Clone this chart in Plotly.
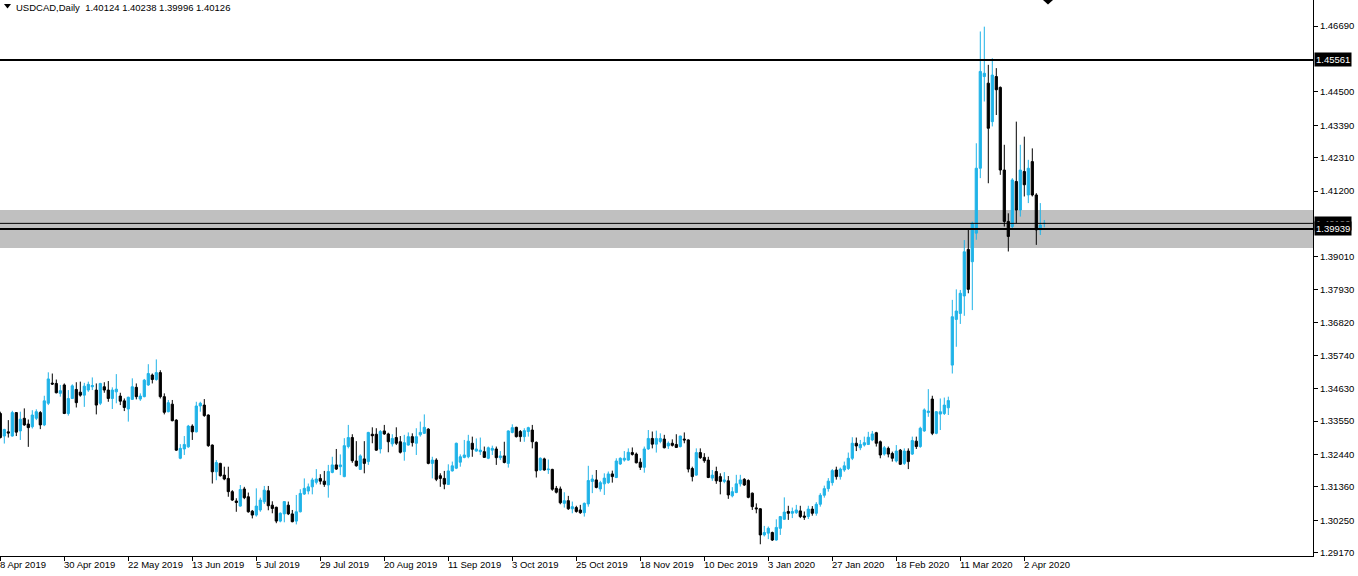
import plotly.graph_objects as go

# ---------------- data ----------------
open_ = [
1.3380,1.3305,1.3319,1.3305,1.3383,1.3322,1.3364,1.3345,1.3336,1.3364,
1.3383,1.3342,1.3414,1.3481,1.3480,1.3447,1.3475,1.3380,1.3430,1.3460,
1.3451,1.3441,1.3458,1.3469,1.3458,1.3414,1.3469,1.3458,1.3430,1.3452,
1.3438,1.3422,1.3395,1.3427,1.3467,1.3428,1.3436,1.3475,1.3508,1.3493,
1.3516,1.3436,1.3386,1.3411,1.3358,1.3231,1.3262,1.3269,1.3338,1.3319,
1.3405,1.3408,1.3375,1.3275,1.3186,1.3214,1.3175,1.3164,1.3120,1.3089,
1.3072,1.3129,1.3103,1.3055,1.3042,1.3059,1.3086,1.3123,1.3075,1.3068,
1.3022,1.3046,1.3075,1.3046,1.3022,1.3053,1.3112,1.3122,1.3136,1.3151,
1.3164,1.3155,1.3142,1.3184,1.3209,1.3203,1.3170,1.3270,1.3300,1.3222,
1.3194,1.3229,1.3220,1.3311,1.3311,1.3262,1.3322,1.3312,1.3279,1.3300,
1.3286,1.3253,1.3275,1.3303,1.3281,1.3309,1.3314,1.3328,1.3214,1.3225,
1.3173,1.3164,1.3144,1.3189,1.3198,1.3218,1.3234,1.3236,1.3281,1.3255,
1.3253,1.3253,1.3231,1.3258,1.3262,1.3233,1.3239,1.3214,1.3317,1.3334,
1.3320,1.3303,1.3320,1.3325,1.3284,1.3192,1.3229,1.3193,1.3194,1.3131,
1.3129,1.3081,1.3090,1.3063,1.3067,1.3059,1.3050,1.3079,1.3154,1.3159,
1.3129,1.3146,1.3150,1.3179,1.3167,1.3212,1.3225,1.3225,1.3250,1.3245,
1.3218,1.3201,1.3262,1.3297,1.3278,1.3287,1.3295,1.3272,1.3281,1.3277,
1.3270,1.3295,1.3292,1.3197,1.3175,1.3250,1.3234,1.3225,1.3165,1.3187,
1.3170,1.3154,1.3156,1.3106,1.3117,1.3146,1.3161,1.3157,1.3115,1.3066,
1.3063,1.2976,1.2982,1.2984,1.2959,1.2998,1.3028,1.3054,1.3048,1.3050,
1.3056,1.3039,1.3037,1.3062,1.3048,1.3078,1.3108,1.3130,1.3150,1.3192,
1.3170,1.3192,1.3197,1.3231,1.3281,1.3266,1.3275,1.3277,1.3292,1.3316,
1.3286,1.3245,1.3264,1.3247,1.3222,1.3258,1.3214,1.3255,1.3245,1.3288,
1.3270,1.3322,1.3383,1.3428,1.3314,1.3378,1.3380,1.3399,1.3541,1.3693,
1.3713,1.3771,1.3926,1.3885,1.3980,1.4196,1.4501,1.4479,1.4351,1.4501,
1.4465,1.4190,1.4019,1.4002,1.4152,1.4057,1.4185,1.4107,1.4218,1.4107,
1.3991,1.40124]

high = [
1.3386,1.3329,1.3358,1.3389,1.3385,1.3386,1.3397,1.3360,1.3391,1.3394,
1.3388,1.3439,1.3517,1.3513,1.3493,1.3475,1.3480,1.3458,1.3477,1.3484,
1.3486,1.3482,1.3486,1.3500,1.3480,1.3482,1.3484,1.3488,1.3467,1.3511,
1.3449,1.3430,1.3436,1.3497,1.3480,1.3447,1.3495,1.3544,1.3513,1.3560,
1.3524,1.3447,1.3425,1.3425,1.3361,1.3278,1.3305,1.3342,1.3344,1.3419,
1.3419,1.3428,1.3377,1.3277,1.3225,1.3216,1.3203,1.3203,1.3125,1.3098,
1.3142,1.3136,1.3117,1.3059,1.3131,1.3100,1.3139,1.3139,1.3088,1.3070,
1.3051,1.3088,1.3087,1.3059,1.3109,1.3128,1.3164,1.3147,1.3166,1.3195,
1.3178,1.3189,1.3209,1.3236,1.3262,1.3244,1.3298,1.3342,1.3311,1.3288,
1.3244,1.3288,1.3319,1.3334,1.3331,1.3325,1.3342,1.3316,1.3311,1.3334,
1.3305,1.3309,1.3317,1.3314,1.3331,1.3353,1.3377,1.3331,1.3236,1.3231,
1.3181,1.3189,1.3211,1.3220,1.3283,1.3244,1.3292,1.3309,1.3303,1.3297,
1.3300,1.3270,1.3270,1.3273,1.3270,1.3255,1.3286,1.3324,1.3344,1.3336,
1.3325,1.3331,1.3336,1.3342,1.3287,1.3234,1.3233,1.3227,1.3196,1.3139,
1.3137,1.3118,1.3106,1.3087,1.3073,1.3076,1.3084,1.3206,1.3176,1.3192,
1.3156,1.3181,1.3187,1.3190,1.3231,1.3234,1.3255,1.3264,1.3267,1.3250,
1.3231,1.3270,1.3325,1.3320,1.3323,1.3314,1.3309,1.3287,1.3294,1.3311,
1.3306,1.3317,1.3294,1.3203,1.3264,1.3264,1.3248,1.3236,1.3192,1.3203,
1.3181,1.3185,1.3172,1.3135,1.3176,1.3176,1.3165,1.3161,1.3117,1.3081,
1.3065,1.3006,1.3004,1.2987,1.3028,1.3039,1.3101,1.3073,1.3067,1.3076,
1.3073,1.3054,1.3073,1.3072,1.3085,1.3115,1.3140,1.3165,1.3195,1.3203,
1.3200,1.3220,1.3250,1.3301,1.3300,1.3292,1.3303,1.3319,1.3322,1.3319,
1.3290,1.3272,1.3270,1.3253,1.3275,1.3262,1.3264,1.3264,1.3303,1.3303,
1.3336,1.3397,1.3461,1.3439,1.3388,1.3430,1.3433,1.3436,1.3758,1.3793,
1.3791,1.3957,1.3996,1.4018,1.4279,1.4651,1.4667,1.4540,1.4562,1.4529,
1.4468,1.4274,1.4046,1.4163,1.4351,1.4274,1.4301,1.4224,1.4262,1.4113,
1.4080,1.40238]

low = [
1.3297,1.3280,1.3300,1.3303,1.3305,1.3292,1.3339,1.3269,1.3330,1.3358,
1.3328,1.3338,1.3408,1.3475,1.3447,1.3436,1.3378,1.3373,1.3428,1.3400,
1.3436,1.3402,1.3452,1.3458,1.3377,1.3408,1.3449,1.3419,1.3395,1.3414,
1.3408,1.3388,1.3353,1.3425,1.3427,1.3422,1.3434,1.3472,1.3480,1.3489,
1.3430,1.3377,1.3384,1.3354,1.3256,1.3228,1.3242,1.3266,1.3292,1.3317,
1.3386,1.3369,1.3269,1.3147,1.3158,1.3170,1.3158,1.3103,1.3089,1.3053,
1.3070,1.3095,1.3050,1.3031,1.3037,1.3053,1.3079,1.3058,1.3048,1.3015,
1.3018,1.3018,1.3042,1.3018,1.3011,1.3051,1.3109,1.3111,1.3111,1.3144,
1.3144,1.3136,1.3100,1.3181,1.3192,1.3175,1.3168,1.3264,1.3216,1.3203,
1.3192,1.3181,1.3209,1.3281,1.3256,1.3247,1.3309,1.3251,1.3270,1.3275,
1.3247,1.3223,1.3273,1.3270,1.3242,1.3303,1.3312,1.3211,1.3164,1.3155,
1.3136,1.3128,1.3142,1.3187,1.3195,1.3203,1.3231,1.3231,1.3236,1.3253,
1.3242,1.3233,1.3228,1.3242,1.3209,1.3225,1.3214,1.3200,1.3314,1.3300,
1.3286,1.3286,1.3303,1.3264,1.3167,1.3189,1.3190,1.3179,1.3123,1.3114,
1.3078,1.3067,1.3059,1.3048,1.3050,1.3046,1.3037,1.3070,1.3115,1.3131,
1.3120,1.3109,1.3146,1.3150,1.3165,1.3209,1.3220,1.3223,1.3240,1.3214,
1.3192,1.3183,1.3259,1.3264,1.3250,1.3281,1.3264,1.3262,1.3270,1.3266,
1.3267,1.3281,1.3184,1.3154,1.3173,1.3229,1.3216,1.3165,1.3156,1.3146,
1.3111,1.3148,1.3096,1.3101,1.3115,1.3137,1.3139,1.3098,1.3059,1.3048,
1.2945,1.2971,1.2962,1.2956,1.2957,1.2976,1.3026,1.3026,1.3032,1.3046,
1.3032,1.3026,1.3029,1.3040,1.3040,1.3070,1.3100,1.3120,1.3140,1.3160,
1.3160,1.3186,1.3192,1.3225,1.3255,1.3258,1.3270,1.3275,1.3288,1.3270,
1.3231,1.3240,1.3234,1.3220,1.3217,1.3209,1.3209,1.3195,1.3242,1.3262,
1.3266,1.3319,1.3369,1.3308,1.3311,1.3325,1.3375,1.3375,1.3513,1.3602,
1.3678,1.3705,1.3780,1.3724,1.3958,1.4163,1.4418,1.4146,1.4335,1.4373,
1.4174,1.4002,1.3919,1.3991,1.4013,1.4035,1.4102,1.4080,1.4102,1.3941,
1.3974,1.39996]

close = [
1.3300,1.3327,1.3315,1.3383,1.3318,1.3361,1.3342,1.3333,1.3375,1.3386,
1.3342,1.3422,1.3495,1.3478,1.3449,1.3456,1.3380,1.3430,1.3472,1.3416,
1.3441,1.3471,1.3477,1.3473,1.3408,1.3480,1.3458,1.3430,1.3458,1.3461,
1.3421,1.3400,1.3434,1.3469,1.3436,1.3438,1.3491,1.3513,1.3493,1.3516,
1.3436,1.3384,1.3416,1.3356,1.3258,1.3264,1.3277,1.3338,1.3319,1.3405,
1.3414,1.3373,1.3273,1.3186,1.3217,1.3173,1.3162,1.3120,1.3092,1.3084,
1.3127,1.3100,1.3053,1.3042,1.3072,1.3092,1.3125,1.3073,1.3064,1.3022,
1.3048,1.3087,1.3046,1.3020,1.3053,1.3114,1.3131,1.3136,1.3159,1.3162,
1.3155,1.3144,1.3187,1.3209,1.3195,1.3209,1.3273,1.3300,1.3223,1.3206,
1.3239,1.3214,1.3317,1.3306,1.3258,1.3320,1.3312,1.3286,1.3297,1.3281,
1.3251,1.3283,1.3303,1.3283,1.3303,1.3317,1.3334,1.3214,1.3225,1.3161,
1.3164,1.3145,1.3189,1.3206,1.3281,1.3236,1.3242,1.3288,1.3261,1.3262,
1.3258,1.3234,1.3266,1.3264,1.3233,1.3239,1.3217,1.3322,1.3333,1.3303,
1.3303,1.3323,1.3333,1.3286,1.3189,1.3231,1.3192,1.3195,1.3128,1.3118,
1.3083,1.3090,1.3063,1.3070,1.3054,1.3050,1.3081,1.3157,1.3162,1.3134,
1.3150,1.3165,1.3179,1.3170,1.3222,1.3231,1.3231,1.3251,1.3244,1.3216,
1.3201,1.3262,1.3297,1.3278,1.3297,1.3297,1.3266,1.3281,1.3274,1.3267,
1.3305,1.3292,1.3195,1.3170,1.3250,1.3233,1.3223,1.3167,1.3175,1.3156,
1.3154,1.3159,1.3109,1.3120,1.3146,1.3159,1.3142,1.3101,1.3070,1.3063,
1.2976,1.2984,1.2998,1.2959,1.3001,1.3037,1.3052,1.3048,1.3054,1.3059,
1.3037,1.3035,1.3062,1.3048,1.3078,1.3108,1.3130,1.3155,1.3190,1.3170,
1.3195,1.3206,1.3231,1.3281,1.3272,1.3277,1.3283,1.3301,1.3312,1.3281,
1.3242,1.3266,1.3245,1.3231,1.3255,1.3211,1.3255,1.3220,1.3290,1.3270,
1.3331,1.3392,1.3388,1.3314,1.3386,1.3386,1.3408,1.3423,1.3702,1.3721,
1.3780,1.3918,1.3793,1.4013,1.4196,1.4518,1.4512,1.4329,1.4506,1.4457,
1.4190,1.4019,1.3969,1.4157,1.4057,1.4190,1.4141,1.4196,1.4107,1.3991,
1.4007,1.40126]

bar_no = list(range(len(close)))

date_tick_bars = [0, 16, 32, 48, 64, 80, 96, 112, 128, 144, 160, 176, 192, 208, 224, 240, 256]
date_tick_labels = ["8 Apr 2019", "30 Apr 2019", "22 May 2019", "13 Jun 2019", "5 Jul 2019",
                    "29 Jul 2019", "20 Aug 2019", "11 Sep 2019", "3 Oct 2019", "25 Oct 2019",
                    "18 Nov 2019", "10 Dec 2019", "3 Jan 2020", "27 Jan 2020", "18 Feb 2020",
                    "11 Mar 2020", "2 Apr 2020"]

price_ticks = [1.46690, 1.44500, 1.43390, 1.42310, 1.41200, 1.39010, 1.37930, 1.36820,
               1.35740, 1.34630, 1.33550, 1.32440, 1.31360, 1.30250, 1.29170]

resistance_level = 1.45561
bid_level = 1.40126
support_level = 1.39939
zone_top = 1.40570
zone_bottom = 1.39306

title_text = "USDCAD,Daily\u00a0\u00a01.40124 1.40238 1.39996 1.40126"

# ---------------- styling ----------------
BULL = "#1fb3e8"
BEAR = "#000000"
FONT = "Liberation Sans"
FS = 9.5
W, H = 1358, 576
ML, MR, MT, MB = 0, 45, 0, 20
PW = W - ML - MR
PH = H - MT - MB

fig = go.Figure()
fig.add_trace(go.Candlestick(
    x=bar_no, open=open_, high=high, low=low, close=close,
    increasing=dict(line=dict(color=BULL, width=1), fillcolor=BULL),
    decreasing=dict(line=dict(color=BEAR, width=1), fillcolor=BEAR),
    whiskerwidth=0, hoverinfo="skip", showlegend=False,
))

shapes = []
shapes.append(dict(type="rect", xref="paper", yref="y", x0=0, x1=1,
                   y0=zone_bottom, y1=zone_top, fillcolor="#c0c0c0",
                   line=dict(width=0), layer="below"))
for lvl, w in [(resistance_level, 2), (bid_level, 1), (support_level, 2)]:
    shapes.append(dict(type="line", xref="paper", yref="y", x0=0, x1=1,
                       y0=lvl, y1=lvl, line=dict(color="black", width=w)))

def px_x(p):
    return p / PW

def px_y(p):
    return 1 - p / PH

shapes.append(dict(type="path", xref="paper", yref="paper",
                   path=f"M {px_x(4)} {px_y(4)} L {px_x(11)} {px_y(4)} L {px_x(7.5)} {px_y(8.5)} Z",
                   fillcolor="black", line=dict(width=0)))
shapes.append(dict(type="path", xref="paper", yref="paper",
                   path=f"M {px_x(1043)} {px_y(0)} L {px_x(1053)} {px_y(0)} L {px_x(1048)} {px_y(4.5)} Z",
                   fillcolor="black", line=dict(width=0)))

annotations = []
annotations.append(dict(text=title_text, x=0, xref="paper", xshift=14, xanchor="left",
                        y=1, yref="paper", yanchor="top", yshift=0, showarrow=False,
                        font=dict(family=FONT, size=FS, color="black")))

for b, t in zip(date_tick_bars, date_tick_labels):
    annotations.append(dict(text=t, x=b, xref="x", xanchor="left", xshift=-2,
                            y=0, yref="paper", yanchor="top", yshift=-1,
                            showarrow=False, font=dict(family=FONT, size=FS, color="black")))

for lvl in [resistance_level, bid_level, support_level]:
    annotations.append(dict(text=f"{lvl:.5f}", x=1, xref="paper", xanchor="left", xshift=1,
                            y=lvl, yref="y", yanchor="middle", showarrow=False,
                            bgcolor="black", borderpad=1,
                            font=dict(family=FONT, size=FS, color="white")))

fig.update_layout(
    width=W, height=H,
    margin=dict(l=ML, r=MR, t=MT, b=MB, pad=0, autoexpand=False),
    paper_bgcolor="white", plot_bgcolor="white",
    showlegend=False,
    boxgap=0.45, boxgroupgap=0,
    shapes=shapes, annotations=annotations,
    font=dict(family=FONT, size=FS, color="black"),
    xaxis=dict(range=[-0.075, 328.175], showgrid=False, zeroline=False,
               showline=True, linecolor="black", linewidth=1,
               ticks="outside", ticklen=4, tickcolor="black",
               tickvals=date_tick_bars, showticklabels=False,
               rangeslider=dict(visible=False), fixedrange=True),
    yaxis=dict(range=[1.29059, 1.47557], side="right", showgrid=False, zeroline=False,
               showline=True, linecolor="black", linewidth=1,
               ticks="outside", ticklen=4, tickcolor="black",
               tickvals=price_ticks, tickformat=".5f",
               tickfont=dict(family=FONT, size=FS, color="black"), fixedrange=True),
)

fig.write_html("out.html", config={"displayModeBar": False},
               post_script="document.body.style.margin='0';document.body.style.padding='0';")
